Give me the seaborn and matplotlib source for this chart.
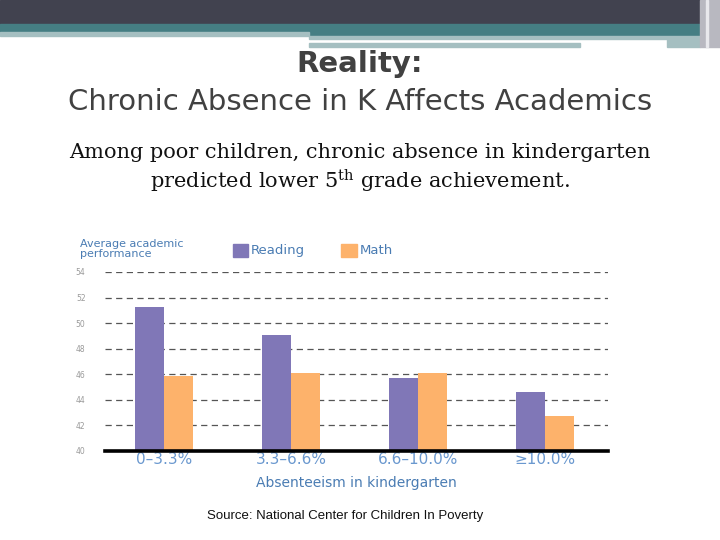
import pandas as pd
import matplotlib.pyplot as plt
import matplotlib.patches as mpatches
import seaborn as sns

# dati
categories = ["0–3.3%", "3.3–6.6%", "6.6–10.0%", "≥10.0%"]
reading = [51.3, 49.1, 45.7, 44.6]
math = [45.9, 46.1, 46.1, 42.7]
y_ticks = [40, 42, 44, 46, 48, 50, 52, 54]

READING_COL = "#8077b7"
MATH_COL = "#fdb26b"
BLUE = "#4a7cb3"

df = pd.DataFrame({
    "absence": categories * 2,
    "score": reading + math,
    "subject": ["Reading"] * 4 + ["Math"] * 4,
})

sns.set_theme(style="white")
plt.rcParams['font.family'] = ['DejaVu Sans']
plt.rcParams['mathtext.fontset'] = 'dejavuserif'

fig = plt.figure(figsize=(7.2, 5.4), dpi=100)
W, H = 720, 540

# --- banda superiore stile slide ---
def band(x0, y0, x1, y1, color):
    fig.patches.append(mpatches.Rectangle((x0 / W, 1 - y1 / H), (x1 - x0) / W, (y1 - y0) / H,
                                          transform=fig.transFigure, color=color, zorder=0))

band(0, 0, 720, 24, "#41424f")
band(0, 24, 720, 32, "#457e83")
band(309, 32, 720, 36, "#457e83")
band(0, 32, 309, 36, "#a5bfc1")
band(309, 36, 700, 39, "#a5bfc1")
band(309, 43, 580, 47, "#a5bfc1")
band(667, 39, 700, 47, "#a5bfc1")
band(700, 0, 720, 47, "#b8b8c0")
band(706, 0, 708, 47, "#e8e8ec")

fig.text(0.5, 1 - 64 / H, "Reality:", ha="center", va="center", fontsize=21,
         fontweight="bold", color="#414141")
fig.text(0.5, 1 - 102 / H, "Chronic Absence in K Affects Academics", ha="center", va="center",
         fontsize=21, color="#414141")
fig.text(0.5, 1 - 169 / H,
         "Among poor children, chronic absence in kindergarten\npredicted lower 5$^{\\mathrm{th}}$ grade achievement.",
         ha="center", va="center", fontsize=15, color="#111111", family="DejaVu Serif",
         linespacing=1.25)

# --- grafico ---
ax = fig.add_axes([105 / W, 1 - 451 / H, (608 - 105) / W, (451 - 272) / H])
sns.barplot(data=df, x="absence", y="score", hue="subject", palette=[READING_COL, MATH_COL],
            width=0.457, ax=ax, legend=False, saturation=1, linewidth=0)

ax.set_ylim(40, 54)
ax.set_xlim(-0.465, 3.5)
ax.set_yticks(y_ticks)
ax.yaxis.grid(True, linestyle=(0, (5, 3.5)), color="#555555", linewidth=0.9)
ax.set_axisbelow(True)
for s in ["top", "right", "left"]:
    ax.spines[s].set_visible(False)
ax.spines["bottom"].set_color("black")
ax.spines["bottom"].set_linewidth(2.6)
ax.tick_params(axis="y", length=0, labelsize=5.5, labelcolor="#9a9a9a", pad=14)
ax.tick_params(axis="x", length=0, labelsize=11, labelcolor="#6a98cf", pad=1)
ax.set_ylabel("")
ax.set_xlabel("Absenteeism in kindergarten", fontsize=10, color=BLUE, labelpad=6)

fig.text(80 / W, 1 - 249 / H, "Average academic\nperformance", ha="left", va="center",
         fontsize=8, color=BLUE, linespacing=0.95)

# legenda manuale
fig.patches.append(mpatches.Rectangle((233 / W, 1 - 257 / H), 15 / W, 13 / H,
                                      transform=fig.transFigure, color=READING_COL))
fig.text(251 / W, 1 - 250 / H, "Reading", ha="left", va="center", fontsize=9.5, color=BLUE)
fig.patches.append(mpatches.Rectangle((341 / W, 1 - 257 / H), 16 / W, 13 / H,
                                      transform=fig.transFigure, color=MATH_COL))
fig.text(360 / W, 1 - 250 / H, "Math", ha="left", va="center", fontsize=9.5, color=BLUE)

fig.text(345 / W, 1 - 516 / H, "Source: National Center for Children In Poverty", ha="center",
         va="center", fontsize=9.5, color="#111111", family="Liberation Sans")

plt.savefig("out.png", dpi=100)
